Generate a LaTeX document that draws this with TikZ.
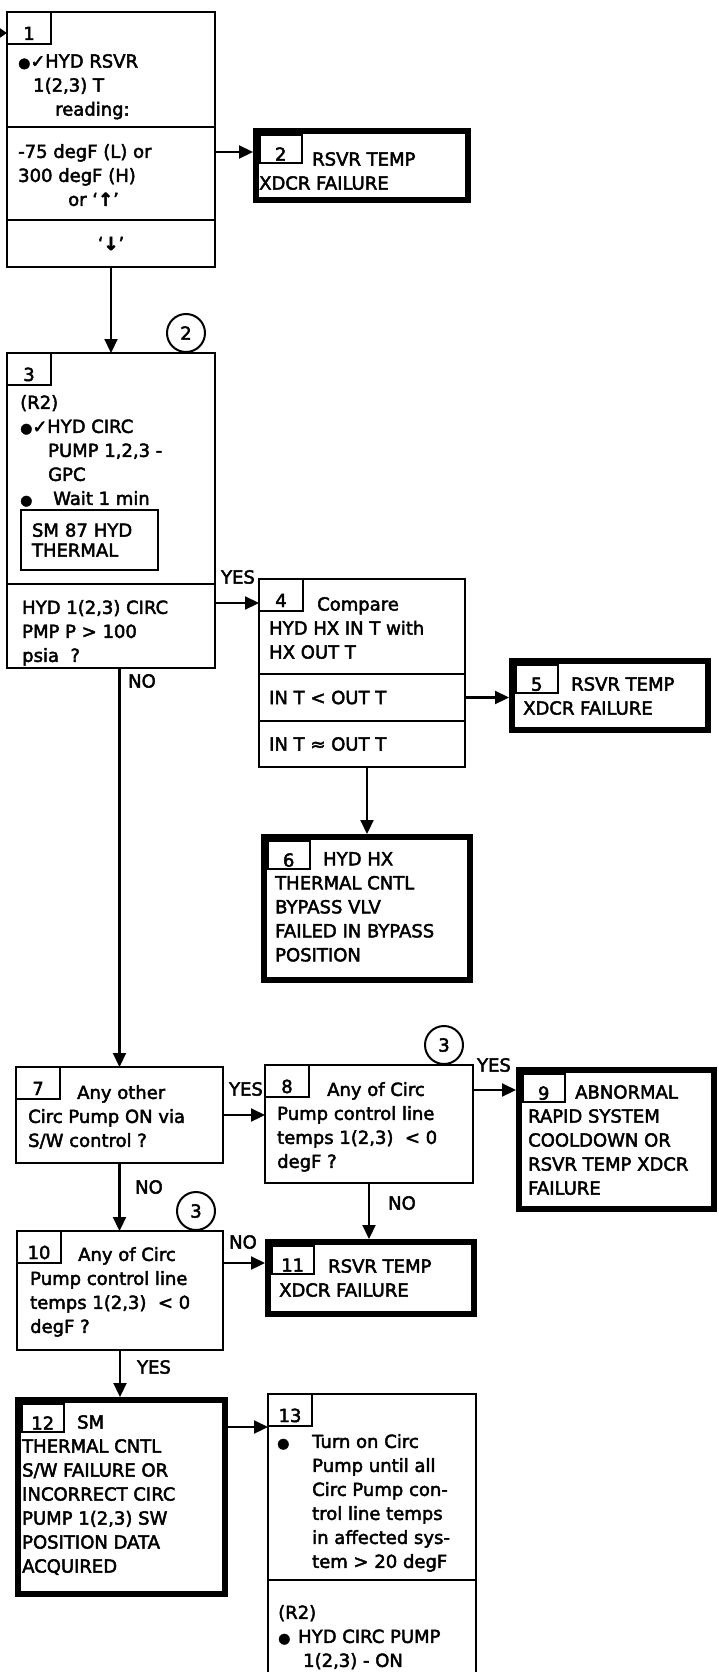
\documentclass[tikz,border=0pt]{standalone}
\usepackage{fontspec}
\setmainfont{DejaVu Sans}[FakeBold=2.5]
\usepackage{tikz}
\usetikzlibrary{arrows.meta, positioning, calc}

\newcommand{\blt}{{\fontsize{14}{14}\selectfont ●}}

\begin{document}
\begin{tikzpicture}[
    x=1pt, y=-1pt,
    every node/.style={font=\fontsize{18}{24}\selectfont},
    box/.style={draw, line width=2.2pt, anchor=north west, inner sep=0pt, outer sep=0pt},
    failbox/.style={draw, line width=6pt, anchor=north west, inner sep=0pt},
    tab/.style={draw, line width=1.8pt, anchor=north west, inner sep=0pt, outer sep=0pt, minimum width=44pt, minimum height=32pt, text height=24pt, text depth=0pt},
    ftab/.style={tab, minimum width=42pt, minimum height=28pt},
    txt/.style={anchor=north west, align=left, inner sep=0pt},
    lbl/.style={inner sep=0pt},
    conn/.style={draw, circle, line width=2pt, minimum size=38pt, inner sep=0pt, anchor=south},
    arr/.style={-{Triangle[length=14pt, width=13pt]}, line width=2.2pt},
]
\fill[white, use as bounding box] (0,0) rectangle (719,1672);

% Entry from previous page
\coordinate (entry) at (0,33);

% Box 1
\node[box, minimum width=208pt, minimum height=115pt] (b1a) at (7,12) {};
\node[box, below=0pt of b1a, minimum width=208pt, minimum height=93pt] (b1b) {};
\node[box, below=0pt of b1b, minimum width=208pt, minimum height=47pt] (b1c) {};
\node[tab] (n1) at (b1a.north west) {1};
\node[txt] (x1a) at (18,54) {\makebox[27pt][l]{\blt✓}HYD RSVR\\\hspace*{15pt}1(2,3) T\\\hspace*{37pt}reading:};
\node[txt] (x1b) at (18,144) {-75 degF (L) or\\300 degF (H)\\\hspace*{50pt}or ‘\textbf{↑}’};
\node[lbl] (x1c) at (b1c.center) {‘\textbf{↓}’};

% Box 2
\node[failbox, minimum width=212pt, minimum height=69pt] (b2) at (253,128) {};
\node[ftab] (n2) at ([shift={(6.7pt,-6.7pt)}]b2.north west) {2};
\node[txt] (x2) at (259,152) {\hspace*{53pt}RSVR TEMP\\XDCR FAILURE};

% Box 3
\node[box, minimum width=208pt, minimum height=231pt] (b3a) at (7,353) {};
\node[box, below=0pt of b3a, minimum width=208pt, minimum height=84pt] (b3b) {};
\node[tab] (n3) at (b3a.north west) {3};
\node[txt] (x3a) at (20,395) {(R2)\\\makebox[27pt][l]{\blt✓}HYD CIRC\\\hspace*{28pt}PUMP 1,2,3 -\\\hspace*{28pt}GPC\\\makebox[33pt][l]{\blt}Wait 1 min};
\node[box, minimum width=137pt, minimum height=60pt, text width=115pt, align=left, font=\fontsize{18}{20}\selectfont] (sm) at (21,510) {SM 87 HYD\\THERMAL};
\node[txt] (x3b) at (22,600) {HYD 1(2,3) CIRC\\PMP P > 100\\psia\ \ ?};
\node[conn] (c2) at (186,353) {2};

% Box 4
\node[box, minimum width=206pt, minimum height=95pt] (b4a) at (259,579) {};
\node[box, below=0pt of b4a, minimum width=206pt, minimum height=47pt] (b4b) {};
\node[box, below=0pt of b4b, minimum width=206pt, minimum height=46pt] (b4c) {};
\node[tab] (n4) at (b4a.north west) {4};
\node[txt] (x4a) at (269,597) {\hspace*{48pt}Compare\\HYD HX IN T with\\HX OUT T};
\node[txt, anchor=west] (x4b) at ([xshift=10pt]b4b.west) {IN T < OUT T};
\node[txt, anchor=west] (x4c) at ([xshift=10pt]b4c.west) {IN T ≈ OUT T};

% Box 5
\node[failbox, minimum width=196pt, minimum height=69pt] (b5) at (509,658) {};
\node[ftab] (n5) at ([shift={(6.7pt,-6.7pt)}]b5.north west) {5};
\node[txt] (x5) at (523,677) {\hspace*{48pt}RSVR TEMP\\XDCR FAILURE};

% Box 6
\node[failbox, minimum width=206pt, minimum height=143pt] (b6) at (261,834) {};
\node[ftab] (n6) at ([shift={(6.7pt,-6.7pt)}]b6.north west) {6};
\node[txt] (x6) at (275,852) {\hspace*{48pt}HYD HX\\THERMAL CNTL\\BYPASS VLV\\FAILED IN BYPASS\\POSITION};

% Box 7
\node[box, minimum width=207pt, minimum height=96pt] (b7) at (16,1067) {};
\node[tab] (n7) at (b7.north west) {7};
\node[txt] (x7) at (28,1085) {\hspace*{49pt}Any other\\Circ Pump ON via\\S/W control ?};

% Box 8
\node[box, minimum width=208pt, minimum height=118pt] (b8) at (265,1065) {};
\node[tab] (n8) at (b8.north west) {8};
\node[txt] (x8) at (277,1082) {\hspace*{50pt}Any of Circ\\Pump control line\\temps 1(2,3)\ \ < 0\\degF ?};
\node[conn] (c3a) at (444,1065) {3};

% Box 9
\node[failbox, minimum width=195pt, minimum height=139pt] (b9) at (516,1067) {};
\node[ftab] (n9) at ([shift={(6.7pt,-6.7pt)}]b9.north west) {9};
\node[txt] (x9) at (528,1085) {\hspace*{47pt}ABNORMAL\\RAPID SYSTEM\\COOLDOWN OR\\RSVR TEMP XDCR\\FAILURE};

% Box 10
\node[box, minimum width=206pt, minimum height=119pt] (b10) at (17,1231) {};
\node[tab] (n10) at (b10.north west) {10};
\node[txt] (x10) at (30,1247) {\hspace*{48pt}Any of Circ\\Pump control line\\temps 1(2,3)\ \ < 0\\degF ?};
\node[conn] (c3b) at (196,1231) {3};

% Box 11
\node[failbox, minimum width=206pt, minimum height=72pt] (b11) at (265,1239) {};
\node[ftab] (n11) at ([shift={(6.7pt,-6.7pt)}]b11.north west) {11};
\node[txt] (x11) at (279,1259) {\hspace*{49pt}RSVR TEMP\\XDCR FAILURE};

% Box 12
\node[failbox, minimum width=207pt, minimum height=194pt] (b12) at (15,1397) {};
\node[ftab] (n12) at ([shift={(6.7pt,-6.7pt)}]b12.north west) {12};
\node[txt] (x12) at (22,1415) {\hspace*{55pt}SM\\THERMAL CNTL\\S/W FAILURE OR\\INCORRECT CIRC\\PUMP 1(2,3) SW\\POSITION DATA\\ACQUIRED};

% Box 13 (runs off the page)
\node[box, minimum width=208pt, minimum height=186pt] (b13a) at (268,1394) {};
\node[below=0pt of b13a, minimum width=208pt, minimum height=92pt, inner sep=0pt, outer sep=0pt] (b13b) {};
\draw[line width=2.2pt] (b13b.south west) -- (b13b.north west) (b13b.north east) -- (b13b.south east);
\node[tab] (n13) at (b13a.north west) {13};
\node[txt] (x13a) at (277,1434) {\makebox[35pt][l]{\blt}Turn on Circ\\\hspace*{35pt}Pump until all\\\hspace*{35pt}Circ Pump con-\\\hspace*{35pt}trol line temps\\\hspace*{35pt}in affected sys-\\\hspace*{35pt}tem > 20 degF};
\node[txt] (x13b) at (278,1605) {(R2)\\\makebox[20pt][l]{\blt}HYD CIRC PUMP\\\hspace*{25pt}1(2,3) - ON};

% Connectors
\draw[-{Triangle[length=7pt, width=9pt]}, line width=2.2pt] (entry) -- (entry -| b1a.west);
\coordinate (a12) at ([yshift=-25pt]b1b.north east);
\draw[arr] (a12) -- (a12 -| b2.west);
\draw[arr] (b1c.south) -- (b1c.south |- b3a.north);
\coordinate (a34) at ([yshift=-19pt]b3b.north east);
\draw[arr] (a34) -- (a34 -| b4a.west);
\draw[arr] (b4b.east) -- (b4b.east -| b5.west);
\draw[arr] (b6.north |- b4c.south) -- (b6.north);
\draw[arr] (b7.north |- b3b.south) -- (b7.north);
\draw[arr] (b7.east) -- (b7.east -| b8.west);
\coordinate (a89) at ([yshift=-25pt]b8.north east);
\draw[arr] (a89) -- (a89 -| b9.west);
\draw[arr] (b8.south) -- (b8.south |- b11.north);
\draw[arr] (b7.south) -- (b7.south |- b10.north);
\coordinate (a1011) at ([yshift=-32pt]b10.north east);
\draw[arr] (a1011) -- (a1011 -| b11.west);
\draw[arr] (b10.south) -- (b10.south |- b12.north);
\coordinate (a1213) at ([yshift=-30pt]b12.north east);
\draw[arr] (a1213) -- (a1213 -| b13a.west);

% Branch labels
\node[lbl] (yes34) at (238,577) {YES};
\node[lbl] (no37) at (142,681) {NO};
\node[lbl] (yes78) at (246,1089) {YES};
\node[lbl] (yes89) at (494,1065) {YES};
\node[lbl] (no811) at (402,1203) {NO};
\node[lbl] (no710) at (149,1187) {NO};
\node[lbl] (no1011) at (243,1242) {NO};
\node[lbl] (yes1012) at (154,1367) {YES};

\end{tikzpicture}
\end{document}
